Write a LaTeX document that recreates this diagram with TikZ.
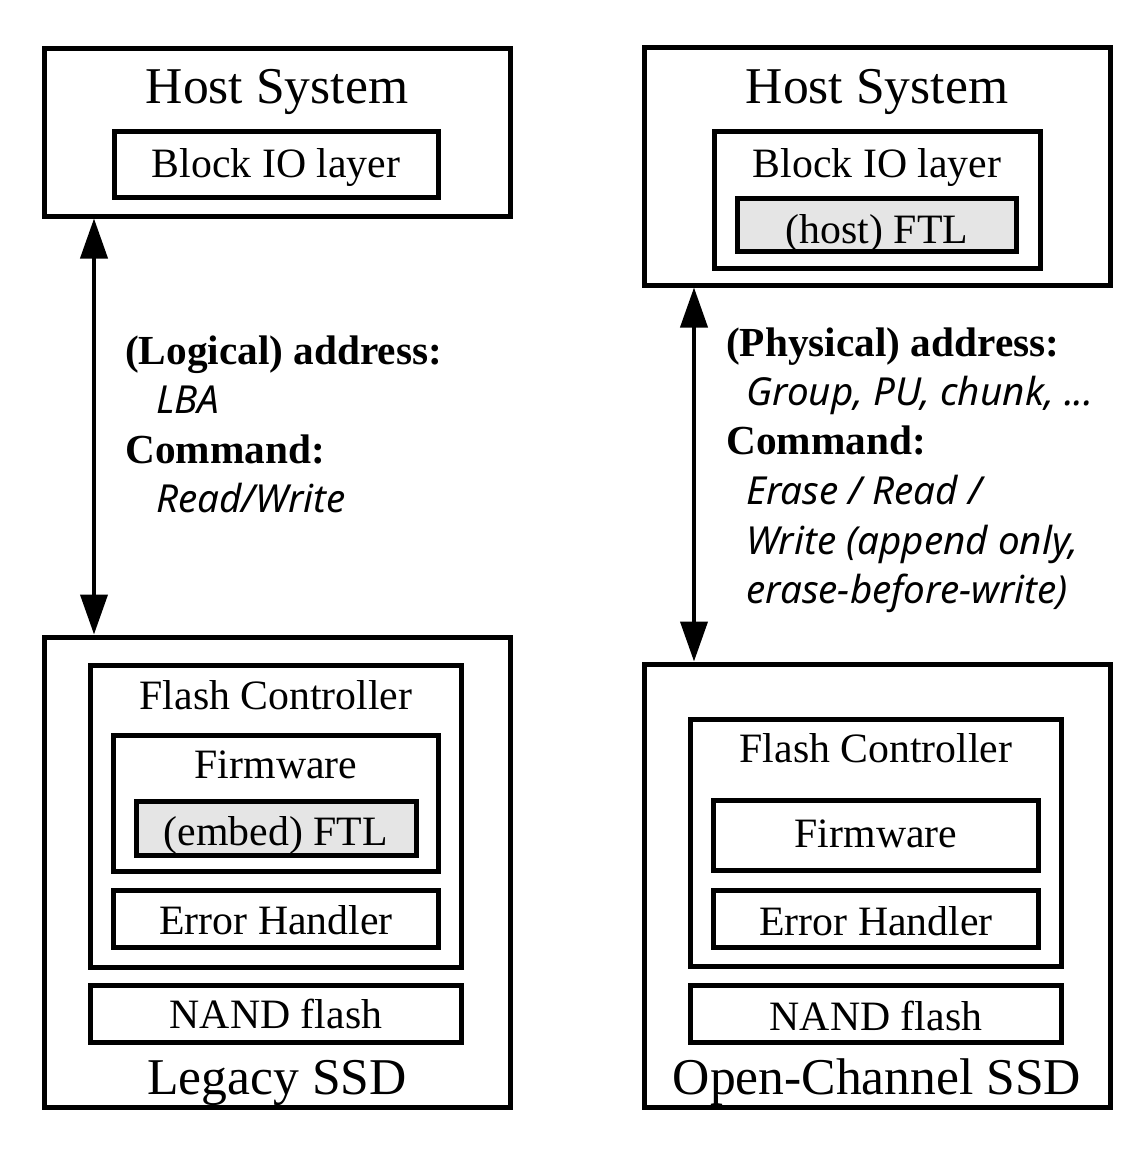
\documentclass[tikz,border=0pt]{standalone}
\usepackage{fontspec}
\setmainfont{Liberation Serif}
\newfontfamily\labelsans{Noto Sans}
\usetikzlibrary{arrows.meta}
\begin{document}
\begin{tikzpicture}[x=1pt,y=-1pt,
  box/.style={draw=black,line width=5pt,inner sep=0pt,minimum width=#1},
  ftlbox/.style={box=#1,fill=black!10},
  txt/.style={anchor=base,inner sep=0pt,font=\fontsize{41.8}{42}\selectfont},
  bigtxt/.style={anchor=base,inner sep=0pt,font=\fontsize{51.6}{52}\selectfont},
  boldlbl/.style={anchor=base west,inner sep=0pt,font=\fontsize{41.3}{42}\selectfont\bfseries},
  itlbl/.style={anchor=base west,inner sep=0pt,font=\fontsize{38.6}{39}\selectfont\labelsans\itshape},
  arr/.style={line width=4pt,{Triangle[width=27pt,length=40pt]}-{Triangle[width=27pt,length=40pt]}}
]
\useasboundingbox (0,0) rectangle (1146,1151);
\fill[white] (0,0) rectangle (1146,1151);

% ---------------- Left column ----------------
\node[box=466pt,minimum height=167.5pt] (hostL) at (277,132.25) {};
\node[box=324pt,minimum height=66pt] (bioL) at (276,164) {};
\node[bigtxt] (hostLt) at (277,103) {Host System};
\node[txt] (bioLt) at (276,177) {Block IO layer};

\node[box=466pt,minimum height=470pt] (ssdL) at (277,872) {};
\node[box=371pt,minimum height=302pt] (fcL) at (275.5,816) {};
\node[box=325pt,minimum height=136pt] (fwL) at (275.5,803) {};
\node[ftlbox=280pt,minimum height=54pt] (ftlL) at (276,828) {};
\node[box=325pt,minimum height=57pt] (ehL) at (275.5,918.5) {};
\node[box=371pt,minimum height=57pt] (nandL) at (275.5,1013.5) {};
\node[txt] (fcLt) at (276,709) {Flash Controller};
\node[txt] (fwLt) at (276,778) {Firmware};
\node[txt] (ftlLt) at (276,845) {(embed) FTL};
\node[txt] (ehLt) at (276,934) {Error Handler};
\node[txt] (nandLt) at (276,1028) {NAND flash};
\node[bigtxt] (ssdLt) at (277,1094) {Legacy SSD};

\draw[arr] ([xshift=52.5pt]hostL.south west) -- ([xshift=52.5pt]ssdL.north west);

\node[boldlbl] (l1) at (125,364) {(Logical) address:};
\node[itlbl] (l2) at (156,413) {LBA};
\node[boldlbl] (l3) at (125,463) {Command:};
\node[itlbl] (l4) at (156,512) {Read/Write};

% ---------------- Right column ----------------
\node[box=466pt,minimum height=238pt] (hostR) at (877,166) {};
\node[box=326pt,minimum height=137pt] (bioR) at (877,199.5) {};
\node[ftlbox=279pt,minimum height=53pt] (ftlR) at (876.5,224.5) {};
\node[bigtxt] (hostRt) at (877,103) {Host System};
\node[txt] (bioRt) at (877,177) {Block IO layer};
\node[txt] (ftlRt) at (877,243) {(host) FTL};

\node[box=466pt,minimum height=443pt] (ssdR) at (877,885.5) {};
\node[box=371pt,minimum height=247pt] (fcR) at (875.5,842.5) {};
\node[box=325pt,minimum height=70pt] (fwR) at (875.5,835) {};
\node[box=325pt,minimum height=57pt] (ehR) at (875.5,918.5) {};
\node[box=371pt,minimum height=57pt] (nandR) at (875.5,1013.5) {};
\node[txt] (fcRt) at (876,762) {Flash Controller};
\node[txt] (fwRt) at (876,847) {Firmware};
\node[txt] (ehRt) at (876,935) {Error Handler};
\node[txt] (nandRt) at (876,1030) {NAND flash};
\node[bigtxt] (ssdRt) at (877,1094) {Open-Channel SSD};

\draw[arr] ([xshift=52.5pt]hostR.south west) -- ([xshift=52.5pt]ssdR.north west);

\node[boldlbl] (r1) at (726,356) {(Physical) address:};
\node[itlbl] (r2) at (746,405) {Group, PU, chunk, ...};
\node[boldlbl] (r3) at (726,454) {Command:};
\node[itlbl] (r4) at (746,504) {Erase / Read /};
\node[itlbl] (r5) at (746,554) {Write (append only,};
\node[itlbl] (r6) at (746,603) {erase-before-write)};
\end{tikzpicture}
\end{document}
